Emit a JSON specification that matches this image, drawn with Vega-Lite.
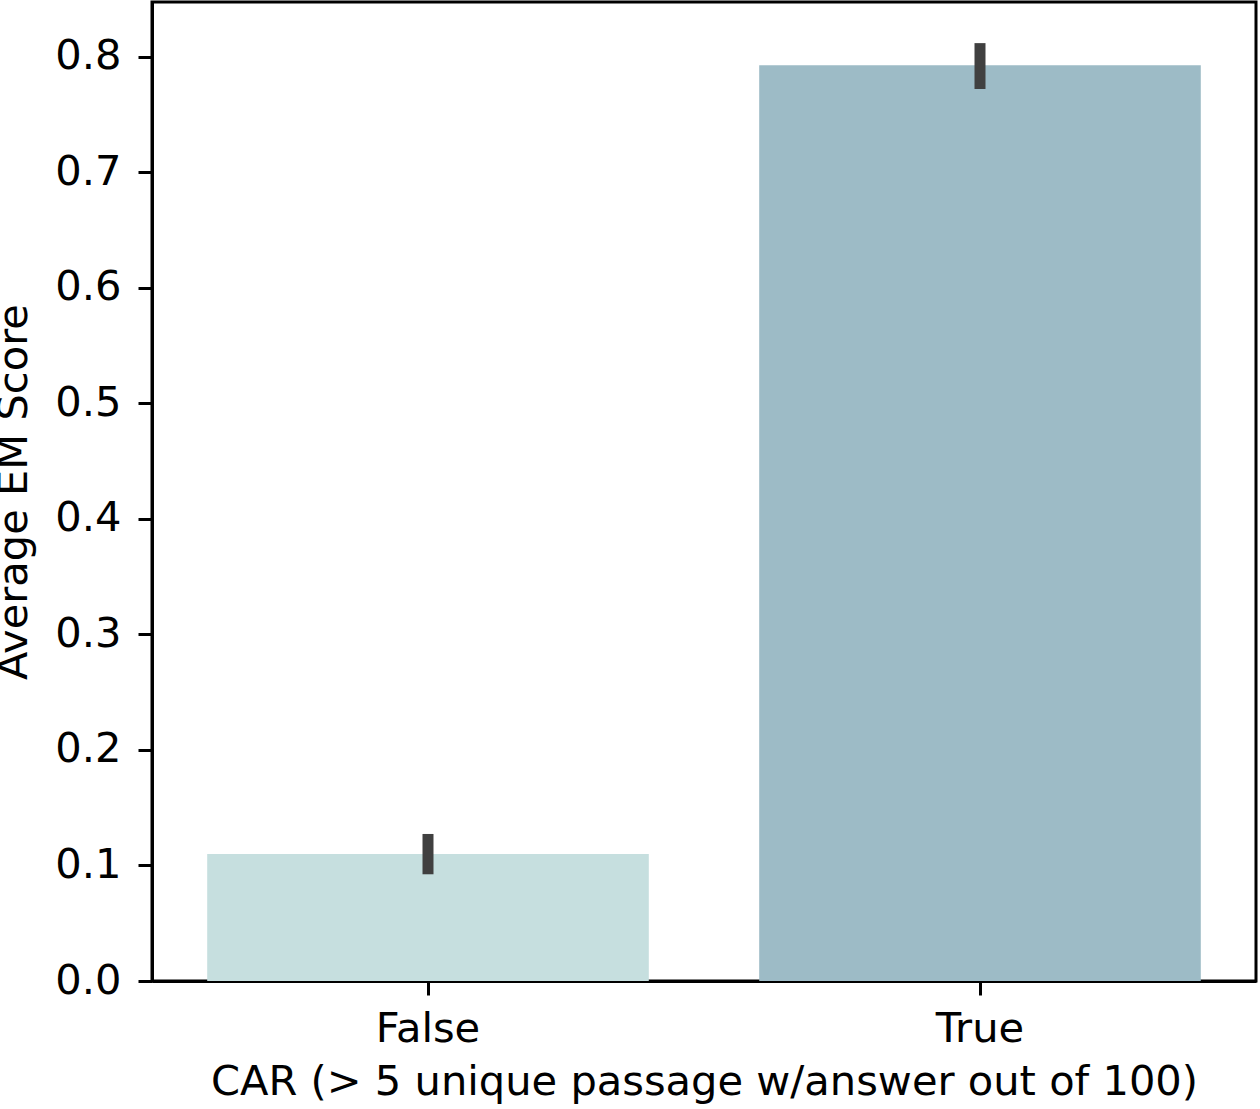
{
  "$schema": "https://vega.github.io/schema/vega-lite/v6.json",
  "autosize": {"type": "none"},
  "padding": {"left": 152, "top": 2, "right": 4, "bottom": 128},
  "width": 1104,
  "height": 979,
  "background": "white",
  "config": {
    "font": "DejaVu Sans",
    "view": {"stroke": "black", "strokeWidth": 3},
    "axis": {
      "labelFont": "DejaVu Sans",
      "labelFontSize": 41.6,
      "labelColor": "black",
      "titleFont": "DejaVu Sans",
      "titleFontSize": 41.6,
      "titleFontWeight": "normal",
      "titleColor": "black",
      "domainColor": "black",
      "domainWidth": 3,
      "tickColor": "black",
      "tickWidth": 3,
      "tickSize": 14,
      "grid": false
    }
  },
  "data": {
    "values": [
      {"CAR": "False", "score": 0.110, "lo": 0.0924, "hi": 0.1273},
      {"CAR": "True", "score": 0.7928, "lo": 0.7723, "hi": 0.812}
    ]
  },
  "encoding": {
    "x": {
      "field": "CAR",
      "type": "nominal",
      "sort": ["False", "True"],
      "scale": {"paddingInner": 0.2, "paddingOuter": 0.1},
      "axis": {
        "title": "CAR (> 5 unique passage w/answer out of 100)",
        "labelAngle": 0,
        "labelPadding": 13,
        "titlePadding": 12
      }
    }
  },
  "layer": [
    {
      "mark": {"type": "bar"},
      "encoding": {
        "y": {
          "field": "score",
          "type": "quantitative",
          "scale": {"domain": [0, 0.8476], "nice": false, "zero": true},
          "axis": {
            "title": "Average EM Score",
            "values": [0, 0.1, 0.2, 0.3, 0.4, 0.5, 0.6, 0.7, 0.8],
            "format": ".1f",
            "labelPadding": 17,
            "titlePadding": 19
          }
        },
        "color": {
          "field": "CAR",
          "type": "nominal",
          "scale": {"domain": ["False", "True"], "range": ["#c6dfdf", "#9dbbc6"]},
          "legend": null
        }
      }
    },
    {
      "mark": {"type": "rule", "color": "#404040", "strokeWidth": 11},
      "encoding": {
        "y": {"field": "lo", "type": "quantitative"},
        "y2": {"field": "hi"}
      }
    }
  ]
}
